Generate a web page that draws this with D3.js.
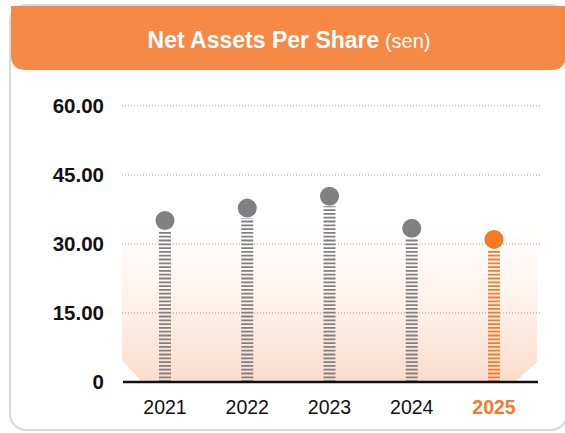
<!DOCTYPE html>
<html>
<head>
<meta charset="utf-8">
<script src="https://cdn.jsdelivr.net/npm/d3@7"></script>
<style>
body{margin:0;background:#fff;font-family:"Liberation Sans",Arial,Helvetica,sans-serif;}
</style>
</head>
<body>
<svg id="chart"></svg>
<script>
var years=["2021","2022","2023","2024","2025"];
var values=[35.1,37.8,40.4,33.4,31.0];
var ticks=[0,15,30,45,60];
var tickLabels=["0","15.00","30.00","45.00","60.00"];

var width=565;
var height=433;
var grey="#808083";
var orange="#f47a26";

var svg=d3.select("#chart")
.attr("width",width)
.attr("height",height);

// card outline
svg.append("rect")
.attr("x",10).attr("y",5)
.attr("width",557).attr("height",425)
.attr("rx",16)
.attr("fill","#fff")
.attr("stroke","#d9d9d9")
.attr("stroke-width",2);

// header
svg.append("path")
.attr("d","M11,6 H566 V55 Q566,70 551,70 H26 Q11,70 11,55 Z")
.attr("fill","#f58945");

var title=svg.append("text")
.attr("x",289).attr("y",48)
.attr("text-anchor","middle")
.attr("fill","#fff")
.attr("font-size",23);
title.append("tspan").attr("font-weight","bold").text("Net Assets Per Share");
title.append("tspan").attr("font-size",20).text(" (sen)");

var x=d3.scalePoint()
.domain(years)
.range([165,494]);

var y=d3.scaleLinear()
.domain([0,60])
.range([382,106]);

// gradient backdrop
var defs=svg.append("defs");
var grad=defs.append("linearGradient")
.attr("id","fade").attr("x1",0).attr("y1",0).attr("x2",0).attr("y2",1);
grad.append("stop").attr("offset","0%").attr("stop-color","#fde8dd").attr("stop-opacity",0);
grad.append("stop").attr("offset","100%").attr("stop-color","#fbdccb").attr("stop-opacity",1);

var gx0=122,gx1=537,gTop=224,gBot=y(0);
svg.append("path")
.attr("d","M"+gx0+","+gTop+" H"+gx1+" V"+(gBot-20)+" L"+(gx1-22)+","+gBot+" H"+(gx0+20)+" L"+gx0+","+(gBot-22)+" Z")
.attr("fill","url(#fade)");

// gridlines
svg.selectAll("line.grid")
.data(ticks.slice(1))
.enter()
.append("line")
.attr("class","grid")
.attr("x1",122).attr("x2",540)
.attr("y1",function(d){return y(d);})
.attr("y2",function(d){return y(d);})
.attr("stroke","#9a9a9a")
.attr("stroke-width",1)
.attr("stroke-dasharray","1,2");

// y labels
svg.selectAll("text.ylab")
.data(ticks)
.enter()
.append("text")
.attr("class","ylab")
.attr("x",104)
.attr("y",function(d){return y(d)+7;})
.attr("text-anchor","end")
.attr("font-size",20.5)
.attr("font-weight","bold")
.attr("fill","#111")
.text(function(d,i){return tickLabels[i];});

// stems
svg.selectAll("line.stem")
.data(values)
.enter()
.append("line")
.attr("class","stem")
.attr("x1",function(d,i){return x(years[i]);})
.attr("x2",function(d,i){return x(years[i]);})
.attr("y1",y(0))
.attr("y2",function(d){return y(d)+10;})
.attr("stroke",function(d,i){return i==4?orange:grey;})
.attr("stroke-width",12)
.attr("stroke-dasharray","1.8,2");

// baseline
svg.append("line")
.attr("x1",123).attr("x2",538)
.attr("y1",y(0)).attr("y2",y(0))
.attr("stroke","#111")
.attr("stroke-width",2.5);

// dots
svg.selectAll("circle")
.data(values)
.enter()
.append("circle")
.attr("cx",function(d,i){return x(years[i]);})
.attr("cy",function(d){return y(d);})
.attr("r",9.5)
.attr("fill",function(d,i){return i==4?orange:grey;});

// x labels
svg.selectAll("text.xlab")
.data(years)
.enter()
.append("text")
.attr("class","xlab")
.attr("x",function(d){return x(d);})
.attr("y",414)
.attr("text-anchor","middle")
.attr("font-size",19.5)
.attr("font-weight",function(d,i){return i==4?"bold":"normal";})
.attr("fill",function(d,i){return i==4?orange:"#111";})
.text(function(d){return d;});
</script>
</body>
</html>
